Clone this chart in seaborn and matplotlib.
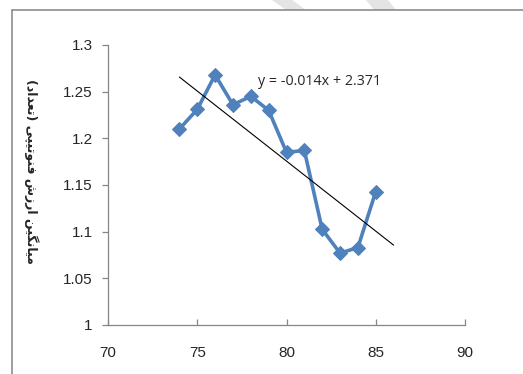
import numpy as np
import pandas as pd
import matplotlib
matplotlib.use("Agg")
import matplotlib.pyplot as plt
import seaborn as sns
from matplotlib.lines import Line2D
from matplotlib.patches import Polygon

# ---- data ----
years = [74, 75, 76, 77, 78, 79, 80, 81, 82, 83, 84, 85]
values = [1.210, 1.231, 1.268, 1.236, 1.245, 1.230, 1.185, 1.187, 1.1025, 1.077, 1.083, 1.143]
x_ticks = [70, 75, 80, 85, 90]
y_ticks = [1.0, 1.05, 1.1, 1.15, 1.2, 1.25, 1.3]
y_tick_labels = ["1", "1.05", "1.1", "1.15", "1.2", "1.25", "1.3"]
trend_range = [74, 86]
equation = "y = -0.014x + 2.371"
y_label = "میانگین ارزش فنوتیپی (تعداد)"

# ---- minimal Arabic/Persian shaping for matplotlib (no bidi support) ----
FORMS = {
    "ا": ("\uFE8D", "\uFE8E"), "د": ("\uFEA9", "\uFEAA"), "ر": ("\uFEAD", "\uFEAE"),
    "ز": ("\uFEAF", "\uFEB0"), "و": ("\uFEED", "\uFEEE"),
    "ش": ("\uFEB5", "\uFEB6", "\uFEB7", "\uFEB8"),
    "ف": ("\uFED1", "\uFED2", "\uFED3", "\uFED4"),
    "ن": ("\uFEE5", "\uFEE6", "\uFEE7", "\uFEE8"),
    "ت": ("\uFE95", "\uFE96", "\uFE97", "\uFE98"),
    "ی": ("\uFEEF", "\uFEF0", "\uFEF3", "\uFEF4"),
    "پ": ("\uFB56", "\uFB57", "\uFB58", "\uFB59"),
    "گ": ("\uFB92", "\uFB93", "\uFB94", "\uFB95"),
    "م": ("\uFEE1", "\uFEE2", "\uFEE3", "\uFEE4"),
    "ع": ("\uFEC9", "\uFECA", "\uFECB", "\uFECC"),
}

def shape(text):
    out = []
    n = len(text)
    for i, ch in enumerate(text):
        if ch not in FORMS:
            out.append(ch)
            continue
        f = FORMS[ch]
        prev = text[i - 1] if i > 0 else ""
        nxt = text[i + 1] if i + 1 < n else ""
        jp = prev in FORMS and len(FORMS[prev]) == 4
        jn = len(f) == 4 and nxt in FORMS
        if jp and jn:
            out.append(f[3])
        elif jp:
            out.append(f[1])
        elif jn:
            out.append(f[2])
        else:
            out.append(f[0])
    vis = "".join(reversed(out))
    return vis.translate(str.maketrans("()", ")("))

# ---- plot ----
sns.set_style("white")
plt.rcParams["font.family"] = ["Liberation Sans", "DejaVu Sans"]

fig = plt.figure(figsize=(5.23, 3.74), dpi=100)
ax = fig.add_axes([108 / 523, 1 - 325 / 374, (465 - 108) / 523, (325 - 45) / 374])

df = pd.DataFrame({"year": years, "value": values})
sns.lineplot(data=df, x="year", y="value", ax=ax, color="#4F81BD", lw=2.6,
             marker="D", markersize=7, markeredgecolor="#4F81BD", zorder=3)

slope, intercept = np.polyfit(years, values, 1)
tx = np.array(trend_range, dtype=float)
sns.lineplot(x=tx, y=slope * tx + intercept, ax=ax, color="black", lw=0.8, zorder=4)

ax.text(78.4, 1.261, equation, fontsize=10.3, ha="left", va="center",
        family=["Open Sans", "DejaVu Sans"])

ax.set_xlim(70, 90)
ax.set_ylim(1.0, 1.3)
ax.set_xticks(x_ticks)
ax.set_xticklabels([str(t) for t in x_ticks])
ax.set_yticks(y_ticks)
ax.set_yticklabels(y_tick_labels)
ax.set_xlabel("")
ax.set_ylabel("")
for s in ["top", "right"]:
    ax.spines[s].set_visible(False)
for s in ["left", "bottom"]:
    ax.spines[s].set_color("#868686")
    ax.spines[s].set_linewidth(0.9)
ax.tick_params(axis="y", direction="out", length=4, width=0.9, color="#868686",
               labelsize=11, pad=7)
ax.tick_params(axis="x", direction="in", length=4, width=0.9, color="#868686",
               labelsize=11, pad=15)
ax.tick_params(left=True, bottom=True)

fig.text(31 / 523, 1 - 171 / 374, shape(y_label), rotation=270, ha="center", va="center",
         fontsize=9, fontweight="bold", family=["DejaVu Sans"])

# outer chart border (left and top only visible in crop)
fig.add_artist(Line2D([12 / 523, 12 / 523], [0, 1 - 10 / 374], transform=fig.transFigure,
                      color="#8c8c8c", lw=1.2))
fig.add_artist(Line2D([12 / 523, 1], [1 - 10 / 374, 1 - 10 / 374], transform=fig.transFigure,
                      color="#8c8c8c", lw=1.2))

# faint watermark strokes at the top
for poly in ([(272, 0), (292, 0), (306, 10), (286, 10)], [(366, 0), (388, 0), (396, 10), (374, 10)]):
    fig.add_artist(Polygon([(px / 523, 1 - py / 374) for px, py in poly], closed=True,
                           transform=fig.transFigure, facecolor="#e4e4e4", edgecolor="none",
                           zorder=0))

fig.savefig("out.png", dpi=100, facecolor="white")
